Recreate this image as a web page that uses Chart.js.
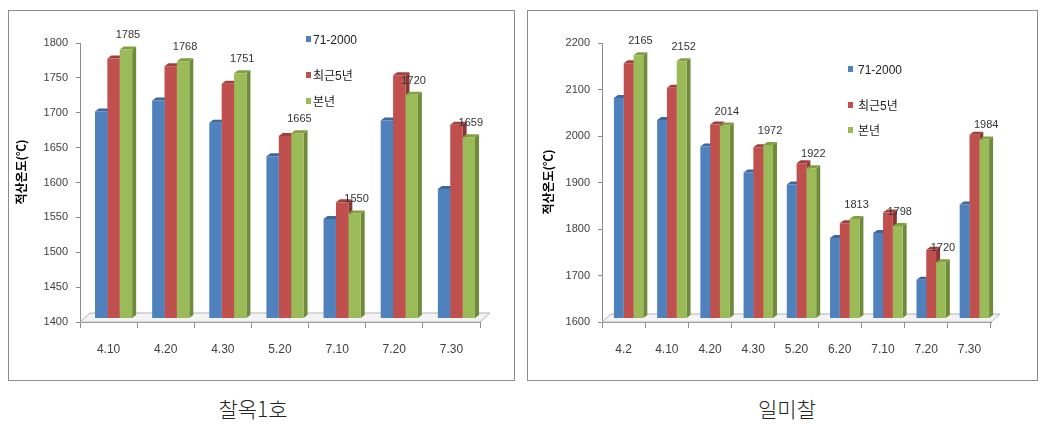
<!DOCTYPE html>
<html>
<head>
<meta charset="utf-8">
<script src="https://cdn.jsdelivr.net/npm/chart.js@4"></script>
<style>
body { margin: 0; background: #fff; width: 1055px; height: 428px; position: relative; overflow: hidden; }
.kader { position: absolute; top: 10px; height: 371px; border: 1px solid #8c8c8c; box-sizing: border-box; }
.kader canvas { display: block; }
.onderschrift { position: absolute; top: 396px; width: 300px; line-height: 24px; text-align: center;
    font-family: "Noto Sans CJK KR", sans-serif; font-weight: 300; font-size: 21px; color: #222; }
</style>
</head>
<body>
<div class="kader" style="left:8px;width:507px"><canvas id="grafiek1" width="505" height="369"></canvas></div>
<div class="kader" style="left:527px;width:511px"><canvas id="grafiek2" width="509" height="369"></canvas></div>
<div class="onderschrift" style="left:103px">찰옥1호</div>
<div class="onderschrift" style="left:637px">일미찰</div>
<script>
// ---- DATA ----
const reeksen = ["71-2000", "최근5년", "본년"];

const chalokLabels = ["4.10", "4.20", "4.30", "5.20", "7.10", "7.20", "7.30"];
const chalokNormaal = [1696, 1712, 1680, 1632, 1542, 1683, 1585];
const chalokRecent = [1772, 1761, 1736, 1661, 1566, 1748, 1677];
const chalokDitJaar = [1785, 1768, 1751, 1665, 1550, 1720, 1659];

const ilmiLabels = ["4.2", "4.10", "4.20", "4.30", "5.20", "6.20", "7.10", "7.20", "7.30"];
const ilmiNormaal = [2073, 2026, 1969, 1913, 1887, 1772, 1783, 1682, 1844];
const ilmiRecent = [2148, 2095, 2016, 1967, 1933, 1804, 1827, 1747, 1994];
const ilmiDitJaar = [2165, 2152, 2014, 1972, 1922, 1813, 1798, 1720, 1984];

const asTitel = "적산온도(℃)";

// ---- KLEUREN ----
const kleuren = ["#4F81BD", "#C0504D", "#9BBB59"];
const zijkleuren = ["#37598A", "#8A3634", "#6E8A3B"];
const bovenkleuren = ["#3E679E", "#A0403D", "#80A044"];
const lijnKleur = "#8c8c8c";
const tekstKleur = "#404040";

Chart.defaults.font.family = "'Liberation Sans', 'Noto Sans CJK KR', sans-serif";
Chart.defaults.font.size = 11;

// ---- 3D EFFECT, LABELS EN LEGENDE ----
const diepte = {
    id: "diepte",
    beforeDatasetsDraw(chart, args, opt) {
        const ctx = chart.ctx;
        const a = chart.chartArea;
        // vloer
        ctx.save();
        ctx.beginPath();
        ctx.moveTo(a.left, a.bottom);
        ctx.lineTo(a.right, a.bottom);
        ctx.lineTo(a.right + opt.vloerX, a.bottom - opt.vloerY);
        ctx.lineTo(a.left + opt.vloerX, a.bottom - opt.vloerY);
        ctx.closePath();
        ctx.fillStyle = "#f3f3f3";
        ctx.fill();
        ctx.strokeStyle = "#b4b4b4";
        ctx.lineWidth = 1;
        ctx.stroke();
        ctx.restore();

        // blijft actief tot afterDatasetsDraw
        ctx.save();
        ctx.translate(opt.dx, -opt.dy);
        const d = opt.d, dz = opt.dz;
        chart.data.datasets.forEach((ds, i) => {
            chart.getDatasetMeta(i).data.forEach(bar => {
                const l = bar.x - bar.width / 2;
                const r = bar.x + bar.width / 2;
                const voet = Math.min(bar.base, a.bottom);
                ctx.fillStyle = zijkleuren[i];
                ctx.beginPath();
                ctx.moveTo(r, bar.y);
                ctx.lineTo(r + d, bar.y - dz);
                ctx.lineTo(r + d, voet - dz);
                ctx.lineTo(r, voet);
                ctx.closePath();
                ctx.fill();
                ctx.fillStyle = bovenkleuren[i];
                ctx.beginPath();
                ctx.moveTo(l, bar.y);
                ctx.lineTo(l + d, bar.y - dz);
                ctx.lineTo(r + d, bar.y - dz);
                ctx.lineTo(r, bar.y);
                ctx.closePath();
                ctx.fill();
            });
        });
    },
    afterDatasetsDraw(chart, args, opt) {
        const ctx = chart.ctx;
        const laatste = chart.data.datasets.length - 1;
        const waarden = chart.data.datasets[laatste].data;
        ctx.fillStyle = "#333";
        ctx.font = "11px 'Liberation Sans', sans-serif";
        ctx.textAlign = "center";
        ctx.textBaseline = "middle";
        chart.getDatasetMeta(laatste).data.forEach((bar, j) => {
            ctx.fillText(waarden[j], bar.x + opt.d / 2, bar.y - opt.labelHoogte);
        });
        ctx.restore();
    },
    afterDraw(chart, args, opt) {
        const ctx = chart.ctx;
        ctx.save();
        // legende
        ctx.textAlign = "left";
        ctx.textBaseline = "middle";
        ctx.font = "12px 'Liberation Sans', 'Noto Sans CJK KR', sans-serif";
        chart.data.datasets.forEach((ds, i) => {
            const y = opt.legendY[i];
            ctx.fillStyle = kleuren[i];
            ctx.fillRect(opt.legendX, y - 5, 5, 6);
            ctx.fillStyle = "#222";
            ctx.fillText(ds.label, opt.legendTekstX, y);
        });
        // astitel
        ctx.translate(opt.titelX, opt.titelY);
        ctx.rotate(-Math.PI / 2);
        ctx.textAlign = "center";
        ctx.font = "bold 12px 'Noto Sans CJK KR', sans-serif";
        ctx.fillStyle = "#000";
        ctx.fillText(asTitel, 0, 0);
        ctx.restore();
    }
};

function maakGrafiek(id, labels, normaal, recent, ditJaar, yMin, yMax, stap, asBreedte, rechts, catPct, extra) {
    const data = [normaal, recent, ditJaar];
    return new Chart(document.getElementById(id), {
        type: "bar",
        data: {
            labels: labels,
            datasets: reeksen.map((naam, i) => ({
                label: naam,
                data: data[i],
                backgroundColor: kleuren[i],
                borderWidth: 0,
                barPercentage: 1,
                categoryPercentage: catPct
            }))
        },
        options: {
            responsive: false,
            animation: false,
            layout: { padding: { top: 32, right: rechts, bottom: 0, left: 0 } },
            plugins: {
                legend: { display: false },
                tooltip: { enabled: false },
                diepte: extra
            },
            scales: {
                x: {
                    grid: { drawOnChartArea: false, tickLength: 6, color: lijnKleur, offset: true },
                    border: { color: lijnKleur },
                    ticks: { color: tekstKleur, padding: 14, font: { size: 12 } },
                    afterFit: s => { s.height = 58; }
                },
                y: {
                    min: yMin,
                    max: yMax,
                    grid: { drawOnChartArea: false, tickLength: 4, color: lijnKleur },
                    border: { color: lijnKleur },
                    ticks: { stepSize: stap, color: tekstKleur, padding: 8, callback: v => String(v) },
                    afterFit: s => { s.width = asBreedte; }
                }
            }
        },
        plugins: [diepte]
    });
}

maakGrafiek("grafiek1", chalokLabels, chalokNormaal, chalokRecent, chalokDitJaar,
    1400, 1800, 50, 71, 34, 0.65,
    { dx: 5, dy: 4, d: 4, dz: 3, vloerX: 10, vloerY: 9, labelHoogte: 14,
      legendX: 297, legendTekstX: 304, legendY: [30, 66, 92], titelX: 12, titelY: 161 });

maakGrafiek("grafiek2", ilmiLabels, ilmiNormaal, ilmiRecent, ilmiDitJaar,
    1600, 2200, 100, 74, 46, 0.68,
    { dx: 5, dy: 4, d: 4, dz: 3, vloerX: 9, vloerY: 8, labelHoogte: 14,
      legendX: 320, legendTekstX: 330, legendY: [60, 96, 121], titelX: 20, titelY: 171 });
</script>
</body>
</html>
